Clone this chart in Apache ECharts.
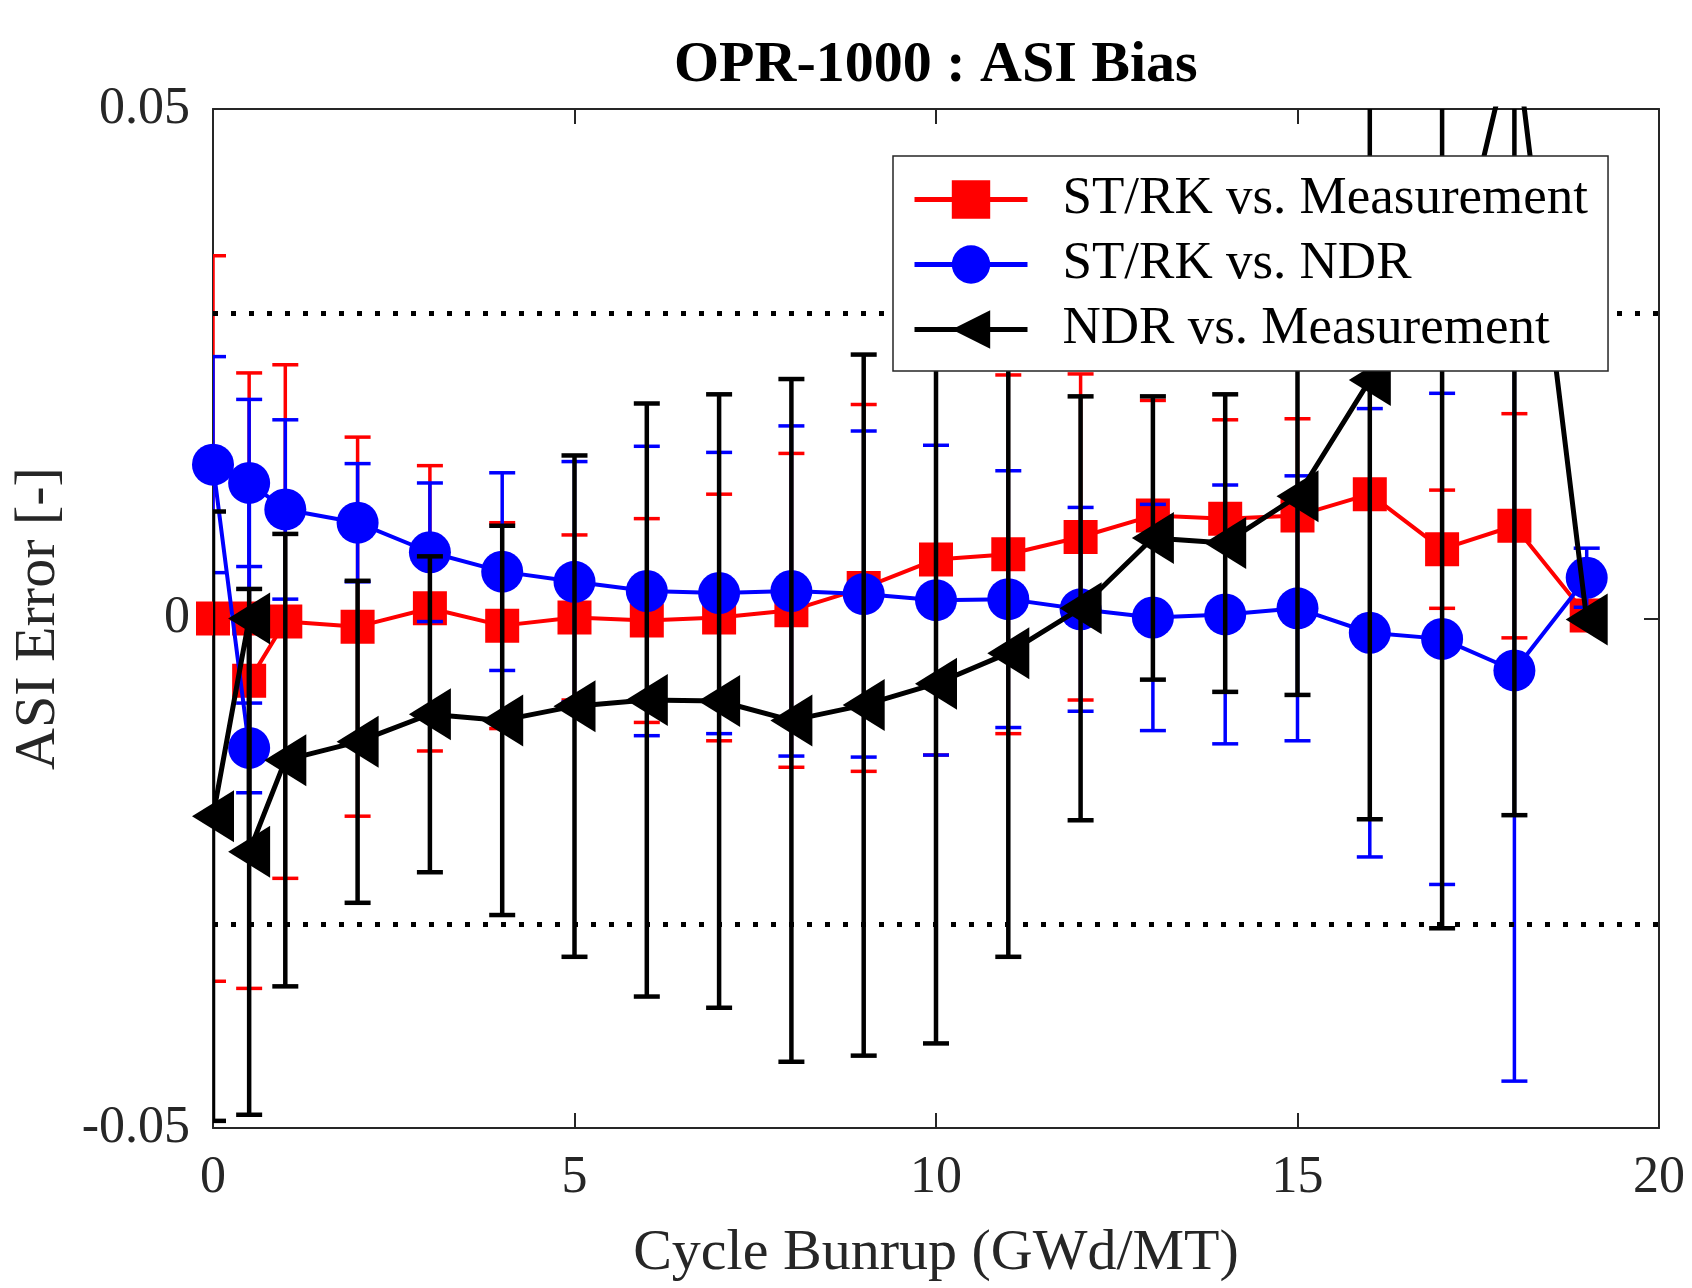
<!DOCTYPE html>
<html>
<head>
<meta charset="utf-8">
<title>OPR-1000 : ASI Bias</title>
<script src="https://cdn.jsdelivr.net/npm/echarts@6/dist/echarts.min.js"></script>
<style>
  html, body { margin: 0; padding: 0; background: #fff; }
  #chart { width: 1692px; height: 1288px; }
</style>
</head>
<body>
<div id="chart"></div>
<script>
  // cycle burnup (GWd/MT); the 0.5 step appears twice in the source data
  var burnup = [0, 0.5, 0.5, 1, 2, 3, 4, 5, 6, 7, 8, 9, 10, 11, 12, 13, 14, 15, 16, 17, 18, 19];

  // ST/RK vs. Measurement
  var strkMeas    = [0, 0, -0.0061, -0.0003, -0.0008, 0.0010, -0.0007, 0.0001, -0.0002, 0.0001, 0.0008,
                     0.0030, 0.0058, 0.0063, 0.0080, 0.0101, 0.0098, 0.0101, 0.0122, 0.0068, 0.0091, 0.0003];
  var strkMeasErr = [0.0356, 0, 0.0302, 0.0252, 0.0186, 0.0140, 0.0101, 0.0081, 0.0100, 0.0121, 0.0154,
                     0.0180, 0.0192, 0.0176, 0.0160, 0.0113, 0.0097, 0.0095, 0.0125, 0.0058, 0.0110, 0];

  // ST/RK vs. NDR
  var strkNdr     = [0.0151, -0.0127, 0.0133, 0.0107, 0.0094, 0.0065, 0.0046, 0.0036, 0.0027, 0.0025, 0.0027,
                     0.0024, 0.0018, 0.0019, 0.0009, 0.0001, 0.0004, 0.0010, -0.0014, -0.0020, -0.0051, 0.0040];
  var strkNdrErr  = [0.0106, 0.0044, 0.0082, 0.0088, 0.0058, 0.0068, 0.0097, 0.0118, 0.0142, 0.0138, 0.0162,
                     0.0160, 0.0152, 0.0126, 0.0100, 0.0111, 0.0127, 0.0130, 0.0220, 0.0241, 0.0403, 0.0029];

  // NDR vs. Measurement
  var ndrMeas     = [-0.0194, 0, -0.0229, -0.0139, -0.0121, -0.0094, -0.0100, -0.0086, -0.0080, -0.0081, -0.0100,
                     -0.0085, -0.0064, -0.0034, 0.0010, 0.0079, 0.0074, 0.0120, 0.0234, 0.0280, 0.0580, -0.0001];
  var ndrMeasErr  = [0.0299, 0, 0.0258, 0.0222, 0.0158, 0.0155, 0.0191, 0.0246, 0.0291, 0.0301, 0.0335,
                     0.0344, 0.0353, 0.0298, 0.0208, 0.0139, 0.0146, 0.0195, 0.0431, 0.0584, 0.0773, 0];

  var limits = [0.03, -0.03];
  var xRange = [0, 20, 5];
  var yRange = [-0.05, 0.05, 0.05];

  var names = ['ST/RK vs. Measurement', 'ST/RK vs. NDR', 'NDR vs. Measurement'];
  var FONT = 'Liberation Serif, Times New Roman, serif';
  var AXIS = '#262626';

  function points(vals) {
    return burnup.map(function (x, i) { return [x, vals[i]]; });
  }

  function bars(vals, errs) {
    var out = [];
    burnup.forEach(function (x, i) {
      if (!errs[i]) return;
      out.push([x, vals[i] - errs[i], vals[i] + errs[i]]);
    });
    return out;
  }

  function errorBar(color, width) {
    return function (params, api) {
      var x = api.value(0);
      var lo = api.coord([x, api.value(1)]);
      var hi = api.coord([x, api.value(2)]);
      var half = 13;
      var style = {stroke: color, lineWidth: width, fill: null};
      return {
        type: 'group',
        children: [
          {type: 'line', shape: {x1: hi[0], y1: hi[1], x2: lo[0], y2: lo[1]}, style: style},
          {type: 'line', shape: {x1: hi[0] - half, y1: hi[1], x2: hi[0] + half, y2: hi[1]}, style: style},
          {type: 'line', shape: {x1: lo[0] - half, y1: lo[1], x2: lo[0] + half, y2: lo[1]}, style: style}
        ]
      };
    };
  }

  function barSeries(vals, errs, color, width, z) {
    return {
      type: 'custom',
      renderItem: errorBar(color, width),
      data: bars(vals, errs),
      encode: {x: 0, y: [1, 2]},
      clip: true,
      silent: true,
      z: z
    };
  }

  function axisX(pos, show) {
    return {
      type: 'value', position: pos, min: xRange[0], max: xRange[1], interval: xRange[2],
      name: show ? 'Cycle Bunrup (GWd/MT)' : '',
      nameLocation: 'middle', nameGap: 97,
      nameTextStyle: {fontFamily: FONT, fontSize: 58, color: AXIS},
      axisLine: {show: true, onZero: false, lineStyle: {color: AXIS, width: 2}},
      axisTick: {show: true, inside: true, length: 15, lineStyle: {color: AXIS, width: 2}},
      axisLabel: {show: show, margin: 24, fontFamily: FONT, fontSize: 52, color: AXIS},
      splitLine: {show: false}
    };
  }

  function axisY(pos, show) {
    return {
      type: 'value', position: pos, min: yRange[0], max: yRange[1], interval: yRange[2],
      name: show ? 'ASI Error [-]' : '',
      nameLocation: 'middle', nameGap: 145,
      nameTextStyle: {fontFamily: FONT, fontSize: 58, color: AXIS},
      axisLine: {show: true, onZero: false, lineStyle: {color: AXIS, width: 2}},
      axisTick: {show: true, inside: true, length: 15, lineStyle: {color: AXIS, width: 2}},
      axisLabel: {show: show, margin: 23, fontFamily: FONT, fontSize: 52, color: AXIS},
      splitLine: {show: false}
    };
  }

  var red = barSeries(strkMeas, strkMeasErr, '#ff0000', 3.5, 2);
  red.markLine = {
    silent: true,
    symbol: ['none', 'none'],
    label: {show: false},
    lineStyle: {color: '#000', type: [5, 13], width: 5},
    data: limits.map(function (v) { return {yAxis: v}; })
  };

  var option = {
    animation: false,
    backgroundColor: '#fff',
    title: {
      text: 'OPR-1000 : ASI Bias',
      left: 669, top: 32,
      textStyle: {fontFamily: FONT, fontSize: 58, fontWeight: 'bold', color: '#000'}
    },
    grid: {left: 213, right: 33, top: 109, bottom: 160},
    xAxis: [axisX('bottom', true), axisX('top', false)],
    yAxis: [axisY('left', true), axisY('right', false)],
    legend: {
      orient: 'vertical',
      left: 893, top: 156,
      padding: [17, 20, 15, 19],
      itemWidth: 113, itemHeight: 48, itemGap: 12,
      backgroundColor: '#fff',
      borderColor: AXIS, borderWidth: 1.5,
      z: 20,
      textStyle: {fontFamily: FONT, fontSize: 53, color: '#000', padding: [0, 0, 0, 30]},
      lineStyle: {width: 5},
      data: names
    },
    series: [
      red,
      {
        name: names[0], type: 'line', data: points(strkMeas), z: 3,
        symbol: 'rect', symbolSize: 34,
        lineStyle: {color: '#ff0000', width: 4},
        itemStyle: {color: '#ff0000'}
      },
      barSeries(strkNdr, strkNdrErr, '#0000ff', 3.5, 4),
      {
        name: names[1], type: 'line', data: points(strkNdr), z: 5,
        symbol: 'circle', symbolSize: 42,
        lineStyle: {color: '#0000ff', width: 4},
        itemStyle: {color: '#0000ff'}
      },
      barSeries(ndrMeas, ndrMeasErr, '#000000', 4.5, 6),
      {
        name: names[2], type: 'line', data: points(ndrMeas), z: 7,
        symbol: 'triangle', symbolSize: [52, 42], symbolRotate: 90,
        lineStyle: {color: '#000000', width: 5},
        itemStyle: {color: '#000000'}
      }
    ]
  };

  var chart = echarts.init(document.getElementById('chart'));
  chart.setOption(option);
</script>
</body>
</html>
